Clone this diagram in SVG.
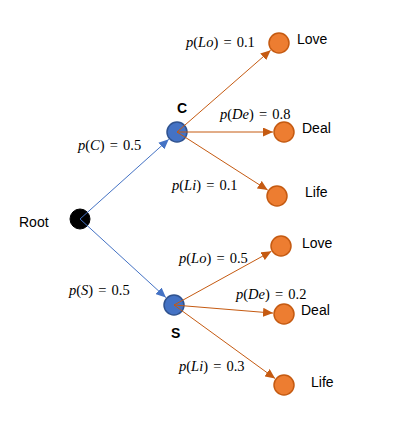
<svg xmlns="http://www.w3.org/2000/svg" width="402" height="440" viewBox="0 0 402 440">
<defs>
<style>
.lbl{font-family:"Liberation Sans",Arial,sans-serif;font-size:14px;fill:#000}
.nm{font-family:"Liberation Sans",Arial,sans-serif;font-size:14px;font-weight:bold;fill:#000}
.m{font-family:"Liberation Serif","Times New Roman",serif;font-size:14.5px;fill:#000;word-spacing:1.5px}
.i{font-style:italic}
.blue{fill:#4472C4;stroke:#2F528F;stroke-width:1.5}
.orange{fill:#ED7D31;stroke:#C55A11;stroke-width:1.5}
.root{fill:#000;stroke:#000}
.eb{stroke:#4472C4;stroke-width:1;fill:none}
.eo{stroke:#C55A11;stroke-width:1;fill:none}
</style>
<marker id="ab" markerUnits="userSpaceOnUse" markerWidth="11" markerHeight="9" refX="10" refY="4.5" orient="auto"><path d="M0,0 L10,4.5 L0,9 z" fill="#4472C4"/></marker>
<marker id="ao" markerUnits="userSpaceOnUse" markerWidth="11" markerHeight="9" refX="10" refY="4.5" orient="auto"><path d="M0,0 L10,4.5 L0,9 z" fill="#C55A11"/></marker>
</defs>
<rect width="402" height="440" fill="#fff"/>
<g id="root"><circle class="root" cx="80" cy="219" r="10"/><text class="lbl" x="19" y="227">Root</text></g>
<g id="C"><circle class="blue" cx="177" cy="132" r="10"/><text class="nm" x="177" y="113">C</text></g>
<g id="S"><circle class="blue" cx="174" cy="305" r="10"/><text class="nm" x="171" y="338">S</text></g>
<g id="c-love"><circle class="orange" cx="279" cy="43" r="10"/><text class="lbl" x="297" y="44">Love</text></g>
<g id="c-deal"><circle class="orange" cx="284" cy="132" r="10"/><text class="lbl" x="302" y="133">Deal</text></g>
<g id="c-life"><circle class="orange" cx="277" cy="196" r="10"/><text class="lbl" x="305" y="197">Life</text></g>
<g id="s-love"><circle class="orange" cx="281" cy="246" r="10"/><text class="lbl" x="302" y="248">Love</text></g>
<g id="s-deal"><circle class="orange" cx="284" cy="314" r="10"/><text class="lbl" x="301" y="315">Deal</text></g>
<g id="s-life"><circle class="orange" cx="284" cy="385" r="10"/><text class="lbl" x="311" y="387">Life</text></g>
<g id="connectors">
<line class="eb" x1="80" y1="219" x2="168.8" y2="139.3" marker-end="url(#ab)"/>
<line class="eb" x1="80" y1="219" x2="165.9" y2="297.6" marker-end="url(#ab)"/>
<line class="eo" x1="177" y1="132" x2="270.7" y2="50.2" marker-end="url(#ao)"/>
<line class="eo" x1="177" y1="132" x2="273" y2="132" marker-end="url(#ao)"/>
<line class="eo" x1="177" y1="132" x2="267.7" y2="190.1" marker-end="url(#ao)"/>
<line class="eo" x1="174" y1="305" x2="271.4" y2="251.3" marker-end="url(#ao)"/>
<line class="eo" x1="174" y1="305" x2="273" y2="313.1" marker-end="url(#ao)"/>
<line class="eo" x1="174" y1="305" x2="275.1" y2="378.5" marker-end="url(#ao)"/>
</g>
<g id="labels">
<text class="m" x="78" y="150"><tspan class="i">p</tspan>(<tspan class="i">C</tspan>) = 0.5</text>
<text class="m" x="69" y="295"><tspan class="i">p</tspan>(<tspan class="i">S</tspan>) = 0.5</text>
<text class="m" x="186" y="47"><tspan class="i">p</tspan>(<tspan class="i">Lo</tspan>) = 0.1</text>
<text class="m" x="220" y="119"><tspan class="i">p</tspan>(<tspan class="i">De</tspan>) = 0.8</text>
<text class="m" x="172" y="190"><tspan class="i">p</tspan>(<tspan class="i">Li</tspan>) = 0.1</text>
<text class="m" x="179" y="263"><tspan class="i">p</tspan>(<tspan class="i">Lo</tspan>) = 0.5</text>
<text class="m" x="236" y="299"><tspan class="i">p</tspan>(<tspan class="i">De</tspan>) = 0.2</text>
<text class="m" x="179" y="371"><tspan class="i">p</tspan>(<tspan class="i">Li</tspan>) = 0.3</text>
</g>
</svg>
